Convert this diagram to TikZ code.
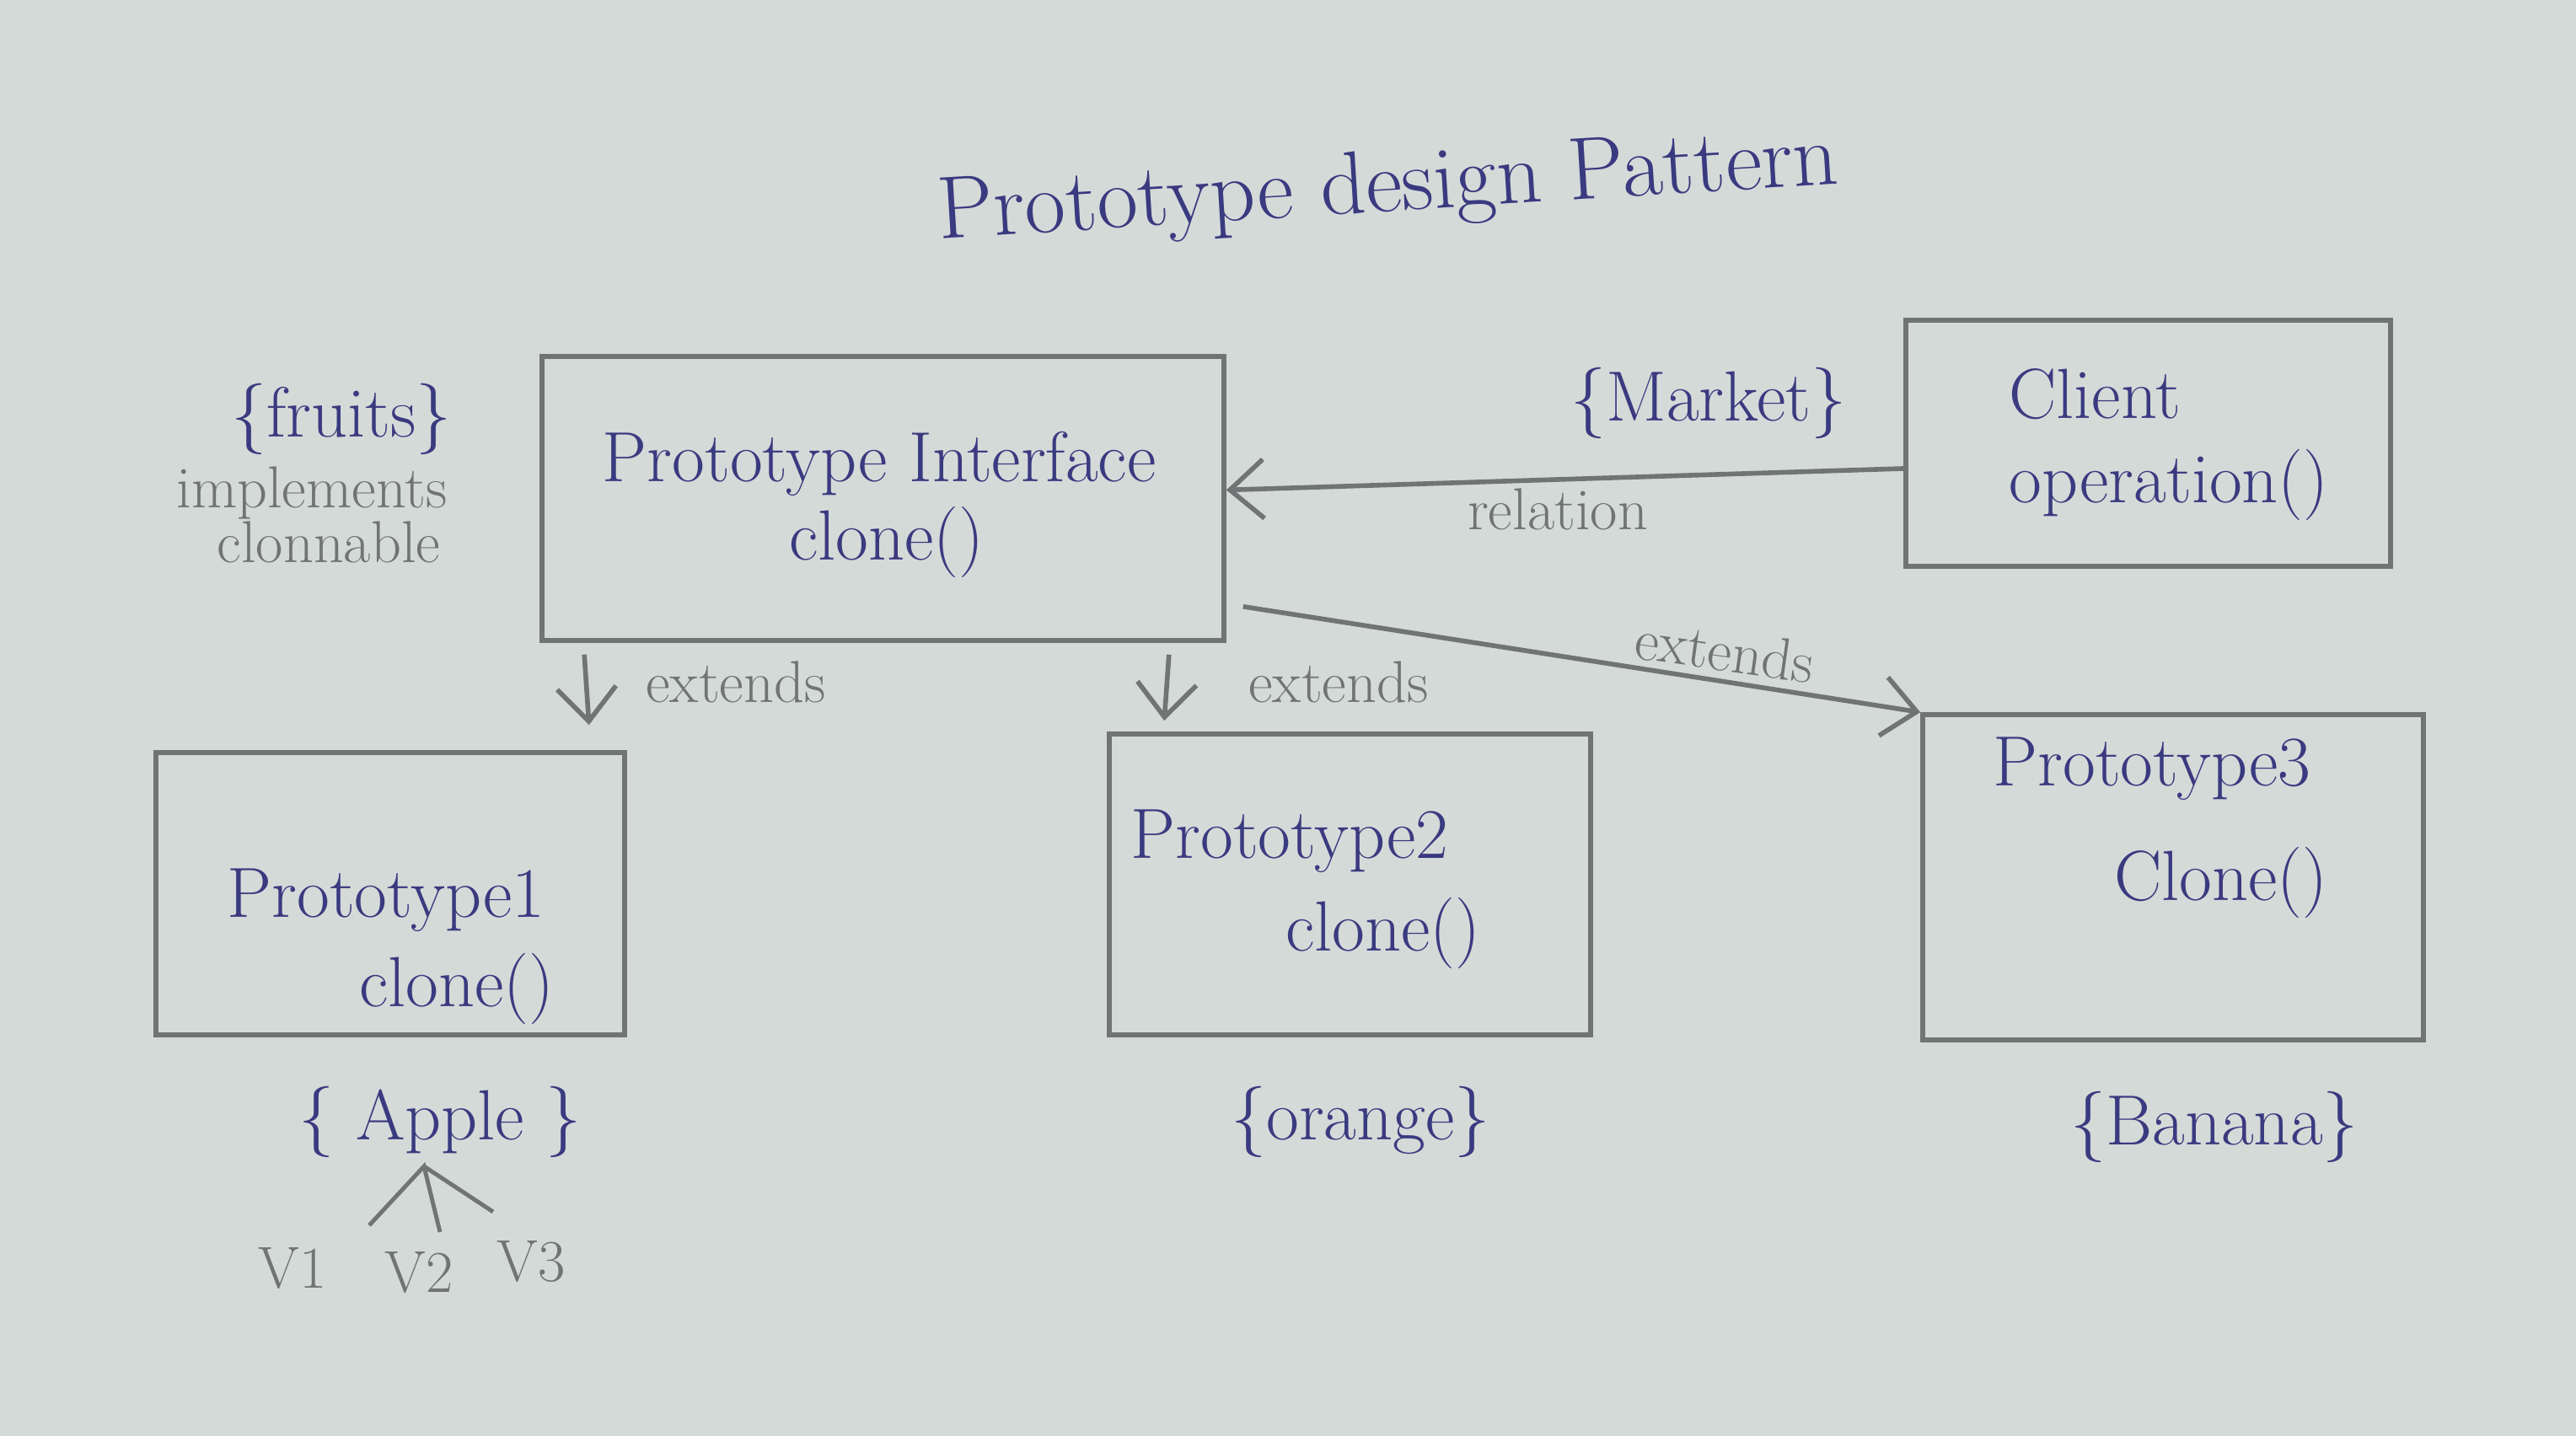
\documentclass[tikz,border=0pt]{standalone}
\usepackage{fontspec}
\usepackage{tikz}
\usetikzlibrary{arrows.meta,positioning,calc}
\definecolor{inkblue}{RGB}{58,58,128}
\definecolor{pencilgray}{RGB}{112,116,116}
\definecolor{paper}{RGB}{212,218,216}

\tikzset{
  box/.style={draw=pencilgray, line width=1.6pt, inner sep=0pt},
  ink/.style={text=inkblue, font=\fontsize{24}{28}\selectfont},
  pencil/.style={text=pencilgray, font=\fontsize{20}{24}\selectfont},
  link/.style={draw=pencilgray, line width=1.6pt, -{Straight Barb[length=4mm,width=7mm]}}
}

\begin{document}
\begin{tikzpicture}
    \fill[paper] (0,0) rectangle (30.56,17.04);
    \useasboundingbox (0,0) rectangle (30.56,17.04);

    % Title
    \node[ink, font=\fontsize{30}{34}\selectfont, rotate=3.5] (title) at (16.47,14.79) {Prototype design Pattern};

    % Interface and client
    \node[box, minimum width=8.09cm, minimum height=3.37cm] (iface) at (10.475,11.125) {};
    \node[ink] (ifacename) at (10.43,11.54) {Prototype Interface};
    \node[ink] (ifaceclone) at (10.52,10.61) {clone()};
    \node[ink] (fruits) at (4.05,12.07) {\{fruits\}};
    \node[pencil] (impl) at (3.70,11.19) {implements};
    \node[pencil] (clonnable) at (3.90,10.61) {clonnable};

    \node[box, minimum width=5.75cm, minimum height=2.92cm] (client) at (25.485,11.78) {};
    \node[ink] (clientname) at (24.85,12.36) {Client};
    \node[ink] (clientop) at (25.73,11.29) {operation()};
    \node[ink] (market) at (20.27,12.26) {\{Market\}};

    % Concrete prototypes
    \node[box, minimum width=5.56cm, minimum height=3.35cm] (p1) at (4.63,6.435) {};
    \node[ink] (p1name) at (4.58,6.36) {Prototype1};
    \node[ink] (p1clone) at (5.42,5.31) {clone()};

    \node[box, minimum width=5.71cm, minimum height=3.57cm] (p2) at (16.015,6.545) {};
    \node[ink] (p2name) at (15.30,7.06) {Prototype2};
    \node[ink] (p2clone) at (16.41,5.97) {clone()};

    \node[box, minimum width=5.94cm, minimum height=3.86cm] (p3) at (25.78,6.63) {};
    \node[ink] (p3name) at (25.53,7.92) {Prototype3};
    \node[ink] (p3clone) at (26.35,6.57) {Clone()};

    \node[ink] (apple) at (5.22,3.73) {\{ Apple \}};
    \node[ink] (orange) at (16.14,3.73) {\{orange\}};
    \node[ink] (banana) at (26.27,3.67) {\{Banana\}};

    % Connectors
    \draw[link] ([yshift=-3mm]client.west) -- ([yshift=1mm]iface.east);
    \node[pencil] (relation) at (18.48,11.00) {relation};

    \draw[link] ([xshift=5.3mm,yshift=-1.4mm]iface.south west) -- ([xshift=-4.5mm,yshift=3mm]p1.north east);
    \node[pencil] (ext1) at (8.73,8.95) {extends};
    \draw[link] ([xshift=-6.8mm,yshift=-1.4mm]iface.south east) -- ([xshift=6.8mm,yshift=1.3mm]p2.north west);
    \node[pencil] (ext2) at (15.88,8.95) {extends};
    \draw[link] ([xshift=2mm,yshift=4.3mm]iface.south east) -- (p3.north west);
    \node[pencil, rotate=-8] (ext3) at (20.46,9.32) {extends};

    % Apple variants
    \coordinate (fork) at (5.03,3.20);
    \coordinate (b1) at (4.38,2.50);
    \coordinate (b2) at (5.22,2.42);
    \coordinate (b3) at (5.85,2.66);
    \draw[pencilgray, line width=1.4pt] (b1) -- (fork) -- (b2) (fork) -- (b3);
    \node[pencil] (v1) at (3.47,1.99) {V1};
    \node[pencil] (v2) at (4.97,1.94) {V2};
    \node[pencil] (v3) at (6.30,2.07) {V3};
\end{tikzpicture}
\end{document}
